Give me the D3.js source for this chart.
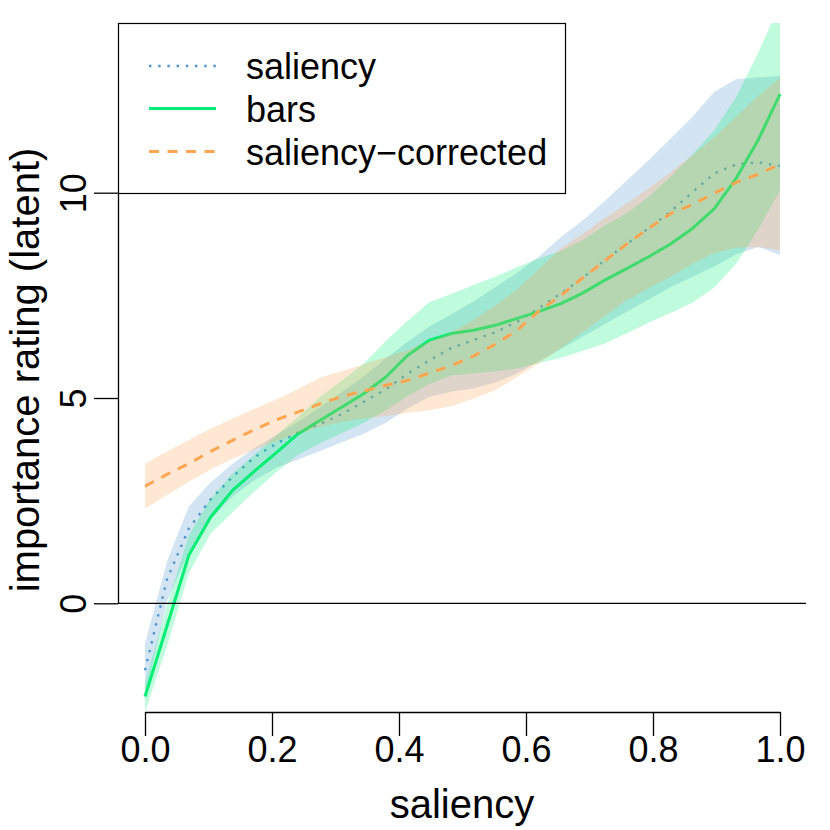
<!DOCTYPE html>
<html>
<head>
<meta charset="utf-8">
<script src="https://cdn.jsdelivr.net/npm/d3@7"></script>
<style>
  html, body { margin: 0; padding: 0; background: #fff; }
  text { font-family: "Liberation Sans", Arial, Helvetica, sans-serif; }
</style>
</head>
<body>
<svg id="chart" width="830" height="830"></svg>
<script>
// ---- data ----
const saliency = [0, 0.0345, 0.0690, 0.1034, 0.1379, 0.1724, 0.2069, 0.2414, 0.2759, 0.3103,
  0.3448, 0.3793, 0.4138, 0.4483, 0.4828, 0.5172, 0.5517, 0.5862, 0.6207, 0.6552,
  0.6897, 0.7241, 0.7586, 0.7931, 0.8276, 0.8621, 0.8966, 0.9310, 0.9655, 1.0];

const salMean = [-1.63, 0.58, 1.82, 2.53, 3.08, 3.56, 3.89, 4.16, 4.37, 4.61,
  4.91, 5.21, 5.60, 5.92, 6.22, 6.41, 6.60, 6.86, 7.19, 7.55,
  7.93, 8.36, 8.75, 9.13, 9.54, 10.01, 10.47, 10.69, 10.74, 10.65];
const salLow = [-2.30, 0.05, 1.25, 2.05, 2.60, 3.00, 3.30, 3.50, 3.71, 3.92,
  4.13, 4.40, 4.75, 5.03, 5.15, 5.24, 5.38, 5.60, 5.90, 6.20,
  6.50, 6.80, 7.10, 7.40, 7.70, 7.95, 8.20, 8.50, 8.68, 8.48];
const salHigh = [-0.98, 1.01, 2.36, 2.95, 3.40, 3.78, 4.10, 4.42, 4.78, 5.15,
  5.53, 5.96, 6.37, 6.75, 7.04, 7.35, 7.70, 8.05, 8.45, 8.92,
  9.33, 9.80, 10.30, 10.79, 11.32, 11.85, 12.46, 12.76, 12.81, 12.84];

const barsMean = [-2.27, -0.56, 1.17, 2.10, 2.75, 3.22, 3.67, 4.13, 4.46, 4.78,
  5.11, 5.51, 6.04, 6.41, 6.57, 6.65, 6.77, 6.94, 7.11, 7.30,
  7.56, 7.87, 8.15, 8.44, 8.75, 9.13, 9.61, 10.35, 11.28, 12.40];
const barsLow = [-2.65, -1.05, 0.73, 1.70, 2.22, 2.72, 3.20, 3.62, 3.90, 4.15,
  4.40, 4.70, 5.05, 5.35, 5.55, 5.60, 5.65, 5.72, 5.85, 5.98,
  6.15, 6.33, 6.58, 6.83, 7.07, 7.32, 7.69, 8.27, 9.10, 10.06];
const barsHigh = [-1.95, -0.05, 1.66, 2.55, 3.16, 3.62, 4.10, 4.55, 5.03, 5.43,
  5.84, 6.39, 6.89, 7.34, 7.54, 7.75, 7.95, 8.19, 8.40, 8.58,
  8.85, 9.20, 9.50, 9.90, 10.38, 10.93, 11.52, 12.33, 13.40, 14.60];

const corrMean = [2.85, 3.14, 3.40, 3.70, 3.97, 4.23, 4.47, 4.66, 4.86, 5.04,
  5.17, 5.31, 5.43, 5.61, 5.79, 6.02, 6.31, 6.65, 7.12, 7.50,
  7.93, 8.34, 8.75, 9.13, 9.49, 9.71, 9.99, 10.25, 10.45, 10.69];
const corrLow = [2.31, 2.63, 2.96, 3.26, 3.52, 3.74, 3.95, 4.13, 4.30, 4.42,
  4.50, 4.56, 4.64, 4.70, 4.80, 4.99, 5.19, 5.51, 5.85, 6.22,
  6.60, 7.00, 7.38, 7.67, 7.95, 8.27, 8.53, 8.66, 8.68, 8.60];
const corrHigh = [3.40, 3.70, 3.98, 4.25, 4.50, 4.74, 4.97, 5.22, 5.50, 5.66,
  5.82, 6.00, 6.17, 6.38, 6.60, 6.90, 7.25, 7.65, 8.15, 8.65,
  9.00, 9.38, 9.74, 10.10, 10.50, 10.91, 11.35, 11.85, 12.35, 12.80];

const xTicks = [0, 0.2, 0.4, 0.6, 0.8, 1.0];
const yTicks = [0, 5, 10];
const legendLabels = ["saliency", "bars", "saliency\u2212corrected"];

// ---- layout ----
const svg = d3.select("#chart");
const plot = { left: 118, right: 806, top: 23, bottom: 712 };
const x = d3.scaleLinear().domain([0, 1]).range([145, 780]);
const y = d3.scaleLinear().domain([0, 10]).range([603.3, 192.7]);

const colBlue = "#4f94cd", colGreen = "#00ee76", colOrange = "#ffa54f";
const FONT = 36, TITLE_FONT = 40;

svg.append("defs").append("clipPath").attr("id", "clip")
  .append("rect")
  .attr("x", plot.left).attr("y", plot.top)
  .attr("width", plot.right - plot.left).attr("height", plot.bottom - plot.top);

const g = svg.append("g").attr("clip-path", "url(#clip)");

function rows(mean, lo, hi) {
  return saliency.map((s, i) => ({ s, m: mean[i], lo: lo[i], hi: hi[i] }));
}
const area = d3.area().x(d => x(d.s)).y0(d => y(d.lo)).y1(d => y(d.hi));
const line = d3.line().x(d => x(d.s)).y(d => y(d.m));

const series = [
  { data: rows(salMean, salLow, salHigh), color: colBlue, width: 2.4, dash: "2.4,6.8" },
  { data: rows(barsMean, barsLow, barsHigh), color: colGreen, width: 3, dash: null },
  { data: rows(corrMean, corrLow, corrHigh), color: colOrange, width: 3, dash: "10,8.5" }
];

series.forEach(sr => {
  g.append("path").datum(sr.data).attr("d", area)
    .attr("fill", sr.color).attr("fill-opacity", 0.25).attr("stroke", "none");
  g.append("path").datum(sr.data).attr("d", line)
    .attr("fill", "none").attr("stroke", sr.color).attr("stroke-width", sr.width)
    .attr("stroke-dasharray", sr.dash).attr("stroke-linecap", "butt")
    .attr("stroke-linejoin", "round");
});

// horizontal reference at 0
svg.append("line")
  .attr("x1", plot.left).attr("x2", plot.right)
  .attr("y1", y(0)).attr("y2", y(0))
  .attr("stroke", "#000").attr("stroke-width", 1.3);

// ---- x axis ----
const xAxis = d3.axisBottom(x).tickValues(xTicks).tickFormat(d3.format(".1f"))
  .tickSizeOuter(0).tickSizeInner(24).tickPadding(4);
const xg = svg.append("g").attr("transform", `translate(0,${plot.bottom})`).call(xAxis);
xg.select(".domain").attr("stroke", "#000").attr("stroke-width", 1.3);
xg.selectAll(".tick line").attr("stroke", "#000").attr("stroke-width", 1.3);
xg.selectAll(".tick text").attr("font-size", FONT).attr("fill", "#000")
  .attr("dy", null).attr("y", 50).attr("font-family", "Liberation Sans, Arial, sans-serif");

// ---- y axis ----
const yAxis = d3.axisLeft(y).tickValues(yTicks).tickFormat(d3.format("d"))
  .tickSizeOuter(0).tickSizeInner(24);
const yg = svg.append("g").attr("transform", `translate(${plot.left},0)`).call(yAxis);
yg.select(".domain").attr("stroke", "#000").attr("stroke-width", 1.3);
yg.selectAll(".tick line").attr("stroke", "#000").attr("stroke-width", 1.3);
yg.selectAll(".tick text").attr("font-size", FONT).attr("fill", "#000")
  .attr("x", null).attr("dy", null)
  .attr("text-anchor", "middle")
  .attr("transform", "translate(-32,0) rotate(-90)")
  .attr("font-family", "Liberation Sans, Arial, sans-serif");

// ---- axis titles ----
svg.append("text").attr("x", (plot.left + plot.right) / 2).attr("y", 818)
  .attr("text-anchor", "middle").attr("font-size", TITLE_FONT).text("saliency");
svg.append("text")
  .attr("transform", `translate(39,370) rotate(-90)`)
  .attr("text-anchor", "middle").attr("font-size", TITLE_FONT).text("importance rating (latent)");

// ---- legend ----
const lg = svg.append("g");
lg.append("rect").attr("x", 118.5).attr("y", 23.5).attr("width", 447).attr("height", 170)
  .attr("fill", "#fff").attr("stroke", "#000").attr("stroke-width", 1.2);
const legY = [66, 108.5, 151.5];
series.forEach((sr, i) => {
  lg.append("line").attr("x1", 149).attr("x2", 216).attr("y1", legY[i]).attr("y2", legY[i])
    .attr("stroke", sr.color).attr("stroke-width", sr.width)
    .attr("stroke-dasharray", sr.dash);
  lg.append("text").attr("x", 246).attr("y", legY[i] + 13)
    .attr("font-size", FONT).attr("fill", "#000").text(legendLabels[i]);
});
</script>
</body>
</html>
